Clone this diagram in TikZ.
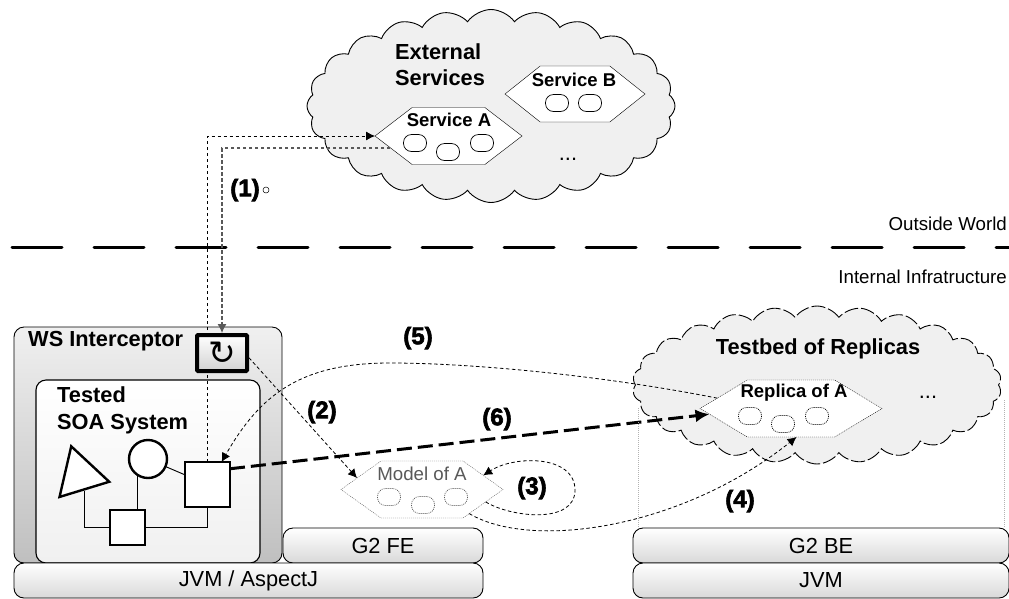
\documentclass[tikz,border=0pt]{standalone}
\usepackage{fontspec}
\setmainfont{Liberation Sans}
\newfontfamily\heavyfont[FakeBold=2.6]{Liberation Sans Bold}
\newfontfamily\glyphfont{DejaVu Sans}
\usetikzlibrary{arrows.meta,shapes.symbols,shapes.geometric}
\definecolor{cloudgray}{HTML}{F0F0F0}
\tikzset{
  big/.style={font=\fontsize{21.8}{26}\selectfont},
  bigb/.style={font=\fontsize{21.8}{26}\selectfont\bfseries,align=left},
  smallb/.style={font=\fontsize{18.5}{22}\selectfont\bfseries},
  small/.style={font=\fontsize{18.7}{22}\selectfont},
  numlabel/.style={font=\fontsize{24}{26}\heavyfont},
  bar/.style={draw,line width=0.9pt,rounded corners=10pt,minimum height=35pt,top color=white,bottom color=gray!30,outer sep=0pt,big},
  hexa/.style={signal,signal to=west and east,draw,fill=white,outer sep=0pt,inner sep=0pt,signal pointer angle=75},
  fine/.style={dash pattern=on 1pt off 1pt},
  ovalshape/.style={draw,fill=white,rounded corners=8pt,minimum width=23pt,minimum height=17pt,inner sep=0pt,line width=0.7pt},
  flow/.style={dash pattern=on 3.5pt off 2.5pt,line width=0.8pt},
  headtip/.style={-{Latex[length=9pt,width=9pt]}},
  comp/.style={draw,fill=white,line width=2.4pt,outer sep=0pt,inner sep=0pt},
  wire/.style={line width=0.9pt}
}
\begin{document}
\begin{tikzpicture}[x=1pt,y=-1pt]
\useasboundingbox (0,0) rectangle (1009,598);

\node[cloud,cloud puffs=24,cloud puff arc=110,cloud ignores aspect,draw,fill=cloudgray,line width=0.9pt,minimum width=368pt,minimum height=193pt,inner sep=0pt] (extcloud) at (491,106) {};
\node[bigb,anchor=west,inner sep=0pt] (exttitle) at (395,65) {External\\[0pt]Services};
\node[hexa,minimum width=147pt,minimum height=57pt] (svca) at (448.5,136) {};
\node[hexa,minimum width=140pt,minimum height=56pt,signal pointer angle=77] (svcb) at (575,94) {};
\node[smallb] (svcatext) at (449,120) {Service A};
\node[smallb] (svcbtext) at (574,80) {Service B};
\node[ovalshape] (ovala1) at (415,143) {};
\node[ovalshape] (ovala2) at (448,152) {};
\node[ovalshape] (ovala3) at (482,143) {};
\node[ovalshape] (ovalb1) at (557,103) {};
\node[ovalshape] (ovalb2) at (590,103) {};
\node[big,anchor=base] (extdots) at (568,160) {...};

\node[cloud,cloud puffs=26,cloud puff arc=110,cloud ignores aspect,draw,fill=cloudgray,line width=0.9pt,dash pattern=on 14pt off 3pt,minimum width=369pt,minimum height=158pt,inner sep=0pt] (bedcloud) at (817,385) {};
\node[bigb] (bedtitle) at (818,349) {Testbed of Replicas};
\node[hexa,fine,minimum width=182pt,minimum height=57pt,signal pointer angle=62] (replica) at (791,408.5) {};
\node[smallb] (replicatext) at (794,393) {Replica of A};
\node[ovalshape,fine] (ovalr1) at (750,416) {};
\node[ovalshape,fine] (ovalr2) at (783,424) {};
\node[ovalshape,fine] (ovalr3) at (817,416) {};
\node[big,anchor=base] (beddots) at (928,398) {...};

\coordinate (dividerl) at (12,247);
\coordinate (dividerr) at (1009,247);
\draw[line width=3pt,line cap=round,dash pattern=on 50pt off 32pt] (dividerl) -- (dividerr);
\node[small,anchor=east,inner sep=0pt] (outside) at (1007,224) {Outside World};
\node[small,anchor=east,inner sep=0pt] (internal) at (1007,277) {Internal Infratructure};

\node[bar,minimum width=376pt] (g2be) at (821,545.5) {G2 BE};
\node[bar,minimum width=376pt] (jvmr) at (821,580.5) {JVM};
\node[bar,minimum width=200pt] (g2fe) at (383,545.5) {G2 FE};

\node[draw,line width=0.9pt,rounded corners=10pt,top color=cloudgray,bottom color=gray!50,minimum width=268pt,minimum height=236pt,outer sep=0pt] (wsbox) at (148,445) {};
\node[draw,line width=1.1pt,rounded corners=10pt,top color=white,bottom color=cloudgray,minimum width=224pt,minimum height=183pt,outer sep=0pt] (soabox) at (148,471.5) {};
\node[bar,minimum width=469pt] (jvml) at (248.5,580.5) {JVM / AspectJ};
\node[bigb,anchor=west,inner sep=0pt] (wstitle) at (28,341) {WS Interceptor};
\node[bigb,anchor=north west,inner sep=0pt] (soatitle) at (57,386) {Tested\\[1pt]SOA System};

\node[comp,regular polygon,regular polygon sides=3,shape border rotate=17,minimum size=60pt] (systri) at (80,475) {};
\node[comp,circle,minimum size=38pt] (syscirc) at (148,459) {};
\node[comp,rectangle,minimum width=45pt,minimum height=45pt] (sysbig) at (207.5,484.5) {};
\node[comp,rectangle,minimum width=35pt,minimum height=35pt,line width=2pt] (syssmall) at (127.5,527.5) {};
\coordinate (trifoot) at (84,491);
\draw[wire] (syscirc) -- (sysbig);
\draw[wire] (syscirc.236) -- (syscirc.236 |- syssmall.north);
\draw[wire] (trifoot) |- (syssmall.west);
\draw[wire] (syssmall.east) -| (sysbig.south);

\draw[flow,headtip] (sysbig.north) |- (svca.west);

\node[draw,line width=4pt,rounded corners=1pt,top color=white,bottom color=gray!35,minimum width=50pt,minimum height=36pt,outer sep=2pt,inner sep=0pt,font=\fontsize{33}{33}\glyphfont] (icpt) at (222,353) {\char"21BB};

\coordinate (svcaback) at (390,148);
\draw[flow,headtip,gray!70!black,line width=1.1pt] (svcaback) -| (icpt.north);

\node[hexa,draw=gray!70!black,fine,minimum width=162pt,minimum height=57pt,signal pointer angle=71] (model) at (422,489.5) {};
\node[small,text=gray!70!black] (modeltext) at (422,474) {Model of A};
\node[ovalshape,fine,draw=gray!70!black] (ovalm1) at (389,497) {};
\node[ovalshape,fine,draw=gray!70!black] (ovalm2) at (423,505) {};
\node[ovalshape,fine,draw=gray!70!black] (ovalm3) at (456,497) {};

\draw[flow,headtip] (icpt.-10) -- (model.170);
\draw[flow,headtip] (model.-11) .. controls (510,517) and (575,525) .. (575,490) .. controls (575,455) and (515,455) .. (model.13);
\draw[flow,headtip] (model.-27) .. controls (530,550) and (680,530) .. (replica.-79);
\draw[flow,headtip] (replica.172) .. controls (600,375) and (470,363) .. (390,363) .. controls (300,363) and (260,395) .. (sysbig.58);
\draw[line width=3pt,dash pattern=on 15pt off 6pt,-{Latex[length=14pt,width=13pt]}] (sysbig.35) -- (replica.184);

\coordinate (testl) at (638,408);
\coordinate (testr) at (1004,400);
\draw[gray!60,fine,line width=0.8pt] (testl) -- (testl |- g2be.north);
\draw[gray!60,fine,line width=0.8pt] (testr) -- (testr |- g2be.north);

\node[numlabel] (step1) at (245,190) {(1)};
\node[draw,circle,minimum size=6pt,inner sep=0pt,line width=0.5pt] (step1dot) at (266,190) {};
\node[numlabel] (step2) at (322,412) {(2)};
\node[numlabel] (step3) at (532,488) {(3)};
\node[numlabel] (step4) at (740,501) {(4)};
\node[numlabel] (step5) at (418,338) {(5)};
\node[numlabel] (step6) at (497,419) {(6)};
\end{tikzpicture}
\end{document}
